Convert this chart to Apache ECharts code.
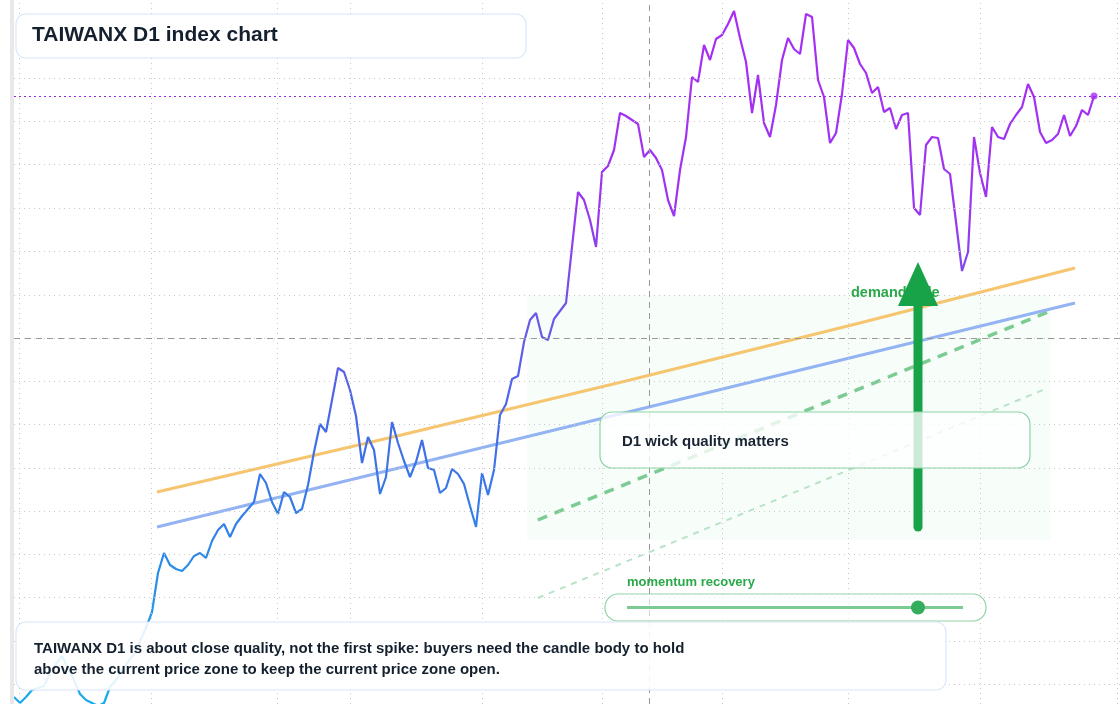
<!DOCTYPE html>
<html><head><meta charset="utf-8">
<script src="https://cdn.jsdelivr.net/npm/echarts@6/dist/echarts.min.js"></script>
<style>html,body{margin:0;padding:0;background:#fff}#c{width:1120px;height:704px}</style>
</head><body><div id="c"></div>
<script>
const closes = [1007,1001,1007,1014,1016,1018,1031,1040,1048,1036,1024,1010,1004,1001,998,1001,1017,1024,1034,1042,
1050,1063,1076,1092,1131,1151,1139,1135,1133,1139,1148,1151,1146,1163,1174,1180,1167,1180,1188,1195,
1202,1230,1221,1202,1190,1212,1207,1191,1195,1219,1252,1280,1272,1304,1336,1332,1314,1288,1241,1267,
1254,1210,1227,1282,1261,1243,1227,1242,1264,1236,1234,1211,1216,1235,1230,1220,1198,1177,1231,1209,
1234,1289,1300,1325,1328,1362,1384,1391,1367,1364,1385,1393,1401,1457,1512,1504,1484,1457,1532,1538,
1554,1591,1588,1584,1580,1547,1554,1546,1534,1504,1488,1534,1567,1627,1622,1659,1644,1665,1669,1680,
1693,1666,1642,1591,1629,1581,1567,1599,1644,1666,1655,1650,1690,1687,1624,1607,1561,1571,1610,1664,
1656,1640,1631,1611,1617,1592,1596,1575,1589,1591,1496,1489,1559,1567,1566,1535,1530,1482,1433,1452,
1567,1531,1507,1577,1567,1565,1580,1589,1597,1620,1607,1572,1561,1564,1570,1589,1568,1578,1594,1589,1608];
const orangeBand = [[23.83,1212],[102.67,1324],[176.83,1436]];
const blueBand = [[23.83,1177],[176.83,1401]];
const greenDash = [[87.3,1184],[172.3,1392]];
const greenThin = [[87.3,1106],[172.3,1316]];
const vGrid = [0.83,22.8,43.8,56,78,98,118,139,161,183.8];
const hGrid = [1626,1583,1540,1496,1453,1409,1366,1323,1280,1236,1193,1150,1107,1063,1020];
const crossX = 105.8, crossY = 1366;
const zone = {x0:85.5, x1:172.8, y0:1409, y1:1164};
const lastIdx = closes.length-1, lastVal = closes[lastIdx];

const chart = echarts.init(document.getElementById('c'));
const grid = {type:[1,4],color:'#c8c8c8',width:1};
chart.setOption({
  animation:false,
  grid:{left:14,right:0,top:0,bottom:0},
  xAxis:{type:'value',min:0,max:184.33,show:false},
  yAxis:{type:'value',min:1000,max:1704,show:false},
  series:[
    {type:'line',data:[],silent:true,markLine:{symbol:'none',silent:true,label:{show:false},lineStyle:grid,
      data:vGrid.map(x=>({xAxis:x})).concat(hGrid.map(y=>({yAxis:y})))}},
    {type:'line',data:[],silent:true,markArea:{silent:true,itemStyle:{color:'rgba(238,250,241,0.45)'},
      data:[[{coord:[zone.x0,zone.y0]},{coord:[zone.x1,zone.y1]}]]},
      markLine:{symbol:'none',silent:true,label:{show:false},lineStyle:{type:[6,5],color:'#999',width:1},
      data:[{xAxis:crossX},{yAxis:crossY}]}},
    {type:'line',data:greenThin,symbol:'none',lineStyle:{color:'#b8e3c6',width:2,type:[6,6]}},
    {type:'line',data:greenDash,symbol:'none',lineStyle:{color:'#7bcb93',width:3.5,type:[10,8]}},
    {type:'line',data:orangeBand,symbol:'none',smooth:true,lineStyle:{color:'#f6c56f',width:3}},
    {type:'line',data:blueBand,symbol:'none',lineStyle:{color:'#94b3f3',width:3}},
    {type:'line',data:closes.map((v,i)=>[i,v]),symbol:'none',
      lineStyle:{width:2.2,color:new echarts.graphic.LinearGradient(0,0,0,704,[
        {offset:0,color:'#aa2cf4'},{offset:0.3,color:'#9a36f0'},{offset:0.45,color:'#6b58e8'},
        {offset:0.62,color:'#416de6'},{offset:0.82,color:'#2a8ee6'},{offset:1,color:'#18abec'}],true)},
      markLine:{symbol:'none',silent:true,label:{show:false},lineStyle:{type:[2,3],color:'#8a2be2',width:1},data:[{yAxis:lastVal}]}},
    {type:'scatter',data:[[lastIdx,lastVal]],symbolSize:7,itemStyle:{color:'#a92cf2'}}
  ],
  graphic:[
    {type:'rect',left:10,top:0,shape:{width:4,height:704},style:{fill:'#e8e8e8'},z:10},
    {type:'text',x:851,y:285,style:{text:'demand side',fill:'#2aa84a',font:'bold 14.5px "Liberation Sans", Arial'},z:20},
    {type:'line',shape:{x1:918,y1:527,x2:918,y2:300},style:{stroke:'#18a349',lineWidth:9,lineCap:'round'},z:21},
    {type:'polygon',shape:{points:[[918,262],[898,306],[938,306]]},style:{fill:'#18a349'},z:21},
    {type:'rect',shape:{x:600,y:412,width:430,height:56,r:12},style:{fill:'rgba(255,255,255,0.78)',stroke:'#8fd4a6',lineWidth:1.2},z:30},
    {type:'text',x:622,y:434,style:{text:'D1 wick quality matters',fill:'#1a2433',font:'bold 15px "Liberation Sans", Arial'},z:31},
    {type:'text',x:627,y:576,style:{text:'momentum recovery',fill:'#2aa84a',font:'bold 13px "Liberation Sans", Arial'},z:30},
    {type:'rect',shape:{x:605,y:594,width:381,height:27,r:13},style:{fill:'rgba(255,255,255,0.6)',stroke:'#8fd4a6',lineWidth:1.2},z:30},
    {type:'line',shape:{x1:627,y1:607.5,x2:963,y2:607.5},style:{stroke:'#7bcb93',lineWidth:3},z:31},
    {type:'circle',shape:{cx:918,cy:607.5,r:7},style:{fill:'#34ad5c'},z:32},
    {type:'rect',shape:{x:16,y:14,width:510,height:44,r:10},style:{fill:'#fff',stroke:'#d9e6fb',lineWidth:1.2},z:30},
    {type:'text',x:32,y:25,style:{text:'TAIWANX D1 index chart',fill:'#14202e',font:'bold 21px "Liberation Sans", Arial'},z:31},
    {type:'rect',shape:{x:16,y:622,width:930,height:68,r:10},style:{fill:'rgba(255,255,255,0.88)',stroke:'#d9e6fb',lineWidth:1.2},z:30},
    {type:'text',x:34,y:638,style:{text:'TAIWANX D1 is about close quality, not the first spike: buyers need the candle body to hold\nabove the current price zone to keep the current price zone open.',fill:'#14202e',font:'bold 15px "Liberation Sans", Arial',lineHeight:21},z:31}
  ]
});
</script></body></html>
